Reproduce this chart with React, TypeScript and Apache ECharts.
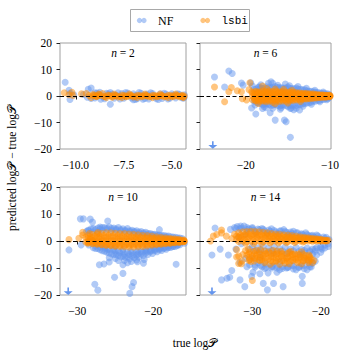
import React, { useEffect, useRef } from "react";
import * as echarts from "echarts";

const BLUE = "#6495ed";
const ORANGE = "#ff8c00";

const panelTitles = ["2", "6", "10", "14"];
const xMins = [-10.82, -25.42, -32.28, -37.65];
const xMaxs = [-4.26, -9.88, -15.7, -18.5];
const xTicks = [[-10, -7.5, -5], [-20, -10], [-30, -20], [-30, -20]];
const xDecimals = [1, 0, 0, 0];
const yTicks = [-20, -10, 0, 10, 20];
const arrowX = [null, -23.9, -31.2, -35.9];

const n2NF = [
  [-10.55, 5.2], [-10.35, 2.2], [-10.3, 1.0], [-10.3, -1.3], [-10.1, 0.5], [-9.2, 3.0], [-9.35, 2.5], [-9.0, 1.2],
  [-8.75, 1.4], [-8.2, -3.1], [-8.5, -1.0], [-8.3, 0.8], [-9.6, 0.6], [-9.4, -0.5], [-9.0, -0.7], [-8.8, 0.5],
  [-8.6, -0.3], [-8.4, 1.0], [-8.1, 0.7], [-8.0, -0.8], [-7.8, 1.2], [-7.6, 0.9], [-7.5, -0.8], [-7.3, 1.1],
  [-7.1, -0.7], [-7.0, 0.8], [-6.8, -1.0], [-6.6, 1.0], [-6.5, -1.2], [-6.3, 0.7], [-6.2, -1.1], [-6.0, 0.9],
  [-5.8, -1.0], [-5.6, 0.8], [-5.5, -0.9], [-5.3, 0.7], [-5.1, -0.8], [-5.0, 0.8], [-4.8, -0.7], [-4.6, 0.6],
  [-4.5, -0.6], [-4.35, 0.5], [-4.35, -0.5], [-7.9, 0.3], [-6.9, 0.2], [-5.9, -0.3], [-4.9, 0.3],
  [-9.2, -0.9], [-8.9, 1.1], [-8.7, -1.2], [-8.2, 1.3], [-7.7, -1.1], [-7.4, 1.3], [-6.9, -1.3], [-6.7, 1.3],
  [-6.4, -0.9], [-6.1, 1.2], [-5.7, -1.3], [-5.4, 1.0], [-5.2, -1.1], [-4.7, 0.8], [-4.4, -0.8], [-7.0, -1.4],
];
const n2Lsbi = [
  [-10.6, 1.2], [-10.2, 1.4], [-10.15, 0.2], [-10.35, 0.5], [-9.7, 0.8], [-9.45, 0.9], [-9.3, 0.2], [-9.1, 0.6],
  [-8.95, -0.2], [-8.8, 0.5], [-8.6, 0.9], [-8.5, -0.3], [-8.3, 0.4], [-8.1, -0.5], [-8.0, 0.3], [-7.8, -0.4],
  [-7.6, 0.4], [-7.4, -0.3], [-7.2, 0.3], [-7.0, -0.4], [-6.8, 0.3], [-6.6, -0.3], [-6.4, 0.3], [-6.2, -0.3],
  [-6.0, 0.3], [-5.8, -0.3], [-5.6, 0.3], [-5.4, -0.3], [-5.2, 0.3], [-5.0, -0.3], [-4.8, 0.3], [-4.6, -0.3],
  [-4.45, 0.3], [-4.35, 0.0], [-4.4, -0.4], [-8.9, 0.0], [-7.9, 0.0], [-7.1, 0.0], [-6.3, 0.0], [-5.5, 0.0], [-4.7, 0.0],
  [-9.2, -0.6], [-8.8, 0.7], [-8.4, -0.6], [-8.0, 0.7], [-7.6, -0.6], [-7.2, 0.7], [-6.8, -0.6], [-6.4, 0.7],
  [-6.0, -0.6], [-5.6, 0.7], [-5.2, -0.6], [-4.8, 0.7], [-4.4, -0.6], [-9.0, 0.3], [-8.2, 0.1], [-7.4, 0.1],
  [-6.6, 0.1], [-5.8, 0.1], [-5.0, 0.1], [-4.5, 0.1],
  [-9.1, 0.2], [-8.9, -0.2], [-8.7, 0.2], [-8.5, -0.2], [-8.3, 0.2], [-8.1, -0.2], [-7.9, 0.2], [-7.7, -0.2],
  [-7.5, 0.2], [-7.3, -0.2], [-7.1, 0.2], [-6.9, -0.2], [-6.7, 0.2], [-6.5, -0.2], [-6.3, 0.2], [-6.1, -0.2],
  [-5.9, 0.2], [-5.7, -0.2], [-5.5, 0.2], [-5.3, -0.2], [-5.1, 0.2], [-4.9, -0.2], [-4.7, 0.2], [-4.5, -0.2],
];

const n6NF = [
  [-23.7, 7.2], [-22.0, 9.4], [-21.6, 8.5], [-22.5, 3.4], [-20.5, 4.9], [-20.3, 4.1], [-19.4, 5.0], [-18.4, 3.5],
  [-17.0, 5.4], [-17.3, 4.8], [-18.8, -6.8], [-18.0, -4.7], [-17.1, -6.3], [-16.5, -9.1], [-15.4, -9.1], [-15.2, -9.7],
  [-14.7, -15.6], [-13.6, -5.3], [-14.7, -4.7], [-19.3, -4.5], [-15.3, 4.5], [-16.8, 4.8], [-14.0, -4.6], [-17.6, -4.4],
  [-19.0, 2.5], [-18.5, 3.2], [-18.0, 2.8], [-17.5, 3.5], [-17.0, 3.0], [-16.5, 3.6], [-16.0, 3.2], [-15.5, 3.0],
  [-15.0, 3.4], [-14.5, 2.8], [-14.0, 3.0], [-13.5, 2.5], [-13.0, 2.3], [-12.5, 1.9], [-12.0, 1.6], [-11.5, 1.3],
  [-11.0, 1.0], [-10.5, 0.8], [-10.1, 0.5], [-19.0, -2.0], [-18.5, -2.5], [-18.0, -3.3], [-17.5, -3.0], [-17.0, -3.6],
  [-16.5, -3.2], [-16.0, -3.8], [-15.5, -3.4], [-15.0, -4.0], [-14.5, -3.5], [-14.0, -3.6], [-13.5, -3.2], [-13.0, -2.8],
  [-12.5, -2.5], [-12.0, -2.0], [-11.5, -1.6], [-11.0, -1.3], [-10.5, -0.9], [-10.1, -0.6], [-18.7, 1.0], [-17.8, -1.2],
  [-17.2, 1.5], [-16.3, -1.5], [-15.7, 1.6], [-14.8, -1.8], [-14.2, 1.4], [-13.3, -1.2], [-12.8, 0.8], [-11.8, -0.6],
  [-19.2, 3.8], [-18.2, 4.2], [-16.2, 4.0], [-14.8, 3.9], [-13.8, 3.6], [-12.8, 2.9], [-11.8, 2.2], [-10.8, 1.5],
  [-18.9, -3.4], [-17.8, -4.0], [-16.8, -4.6], [-15.8, -4.4], [-14.6, -4.5], [-13.2, -3.9], [-12.2, -3.1], [-11.2, -2.2],
  [-10.4, -1.4], [-15.9, -5.0], [-14.3, -5.2],
  [-18.75, 2.6], [-18.25, 2.9], [-17.75, 3.0], [-17.25, 3.2], [-16.75, 3.3], [-16.25, 3.2], [-15.75, 3.1], [-15.25, 3.0],
  [-14.75, 2.9], [-14.25, 2.7], [-13.75, 2.5], [-13.25, 2.3], [-12.75, 2.0], [-12.25, 1.8], [-11.75, 1.5], [-11.25, 1.2],
  [-10.75, 1.0], [-10.25, 0.8],
  [-18.75, -2.4], [-18.25, -2.8], [-17.75, -3.0], [-17.25, -3.2], [-16.75, -3.4], [-16.25, -3.5], [-15.75, -3.6], [-15.25, -3.6],
  [-14.75, -3.5], [-14.25, -3.4], [-13.75, -3.2], [-13.25, -3.0], [-12.75, -2.6], [-12.25, -2.3], [-11.75, -2.0], [-11.25, -1.7],
  [-10.75, -1.3], [-10.25, -1.0],
];
const n6Lsbi = [
  [-23.7, 3.4], [-22.5, -2.2], [-22.0, 1.6], [-21.7, 3.2], [-21.0, 2.0], [-20.5, 1.6], [-20.4, -1.0], [-19.9, -1.5],
  [-19.5, 5.0], [-19.3, 1.6], [-18.0, 3.8], [-19.6, 2.4],
  [-19.2, 1.2], [-18.8, 1.8], [-18.4, 1.6], [-18.0, 2.0], [-17.6, 1.8], [-17.2, 2.0], [-16.8, 1.7], [-16.4, 1.9],
  [-16.0, 1.6], [-15.6, 1.8], [-15.2, 1.5], [-14.8, 1.6], [-14.4, 1.4], [-14.0, 1.3], [-13.6, 1.2], [-13.2, 1.0],
  [-12.8, 1.0], [-12.4, 0.8], [-12.0, 0.8], [-11.6, 0.6], [-11.2, 0.5], [-10.8, 0.4], [-10.4, 0.3], [-10.0, 0.2],
  [-19.2, 0.0], [-18.8, -0.3], [-18.4, 0.2], [-18.0, -0.2], [-17.6, 0.3], [-17.2, -0.3], [-16.8, 0.2], [-16.4, -0.2],
  [-16.0, 0.3], [-15.6, -0.2], [-15.2, 0.2], [-14.8, -0.2], [-14.4, 0.2], [-14.0, -0.1], [-13.6, 0.1], [-13.2, -0.1],
  [-12.8, 0.1], [-12.4, 0.0], [-12.0, 0.1], [-11.6, 0.0], [-11.2, 0.0], [-10.8, 0.0], [-10.4, 0.0], [-10.0, 0.0],
  [-19.2, -1.4], [-18.8, -1.8], [-18.4, -2.0], [-18.0, -1.9], [-17.6, -2.2], [-17.2, -2.0], [-16.8, -2.3], [-16.4, -2.0],
  [-16.0, -2.1], [-15.6, -1.9], [-15.2, -2.0], [-14.8, -1.8], [-14.4, -1.7], [-14.0, -1.5], [-13.6, -1.4], [-13.2, -1.2],
  [-12.8, -1.1], [-12.4, -1.0], [-12.0, -0.8], [-11.6, -0.7], [-11.2, -0.6], [-10.8, -0.5], [-10.4, -0.4], [-10.0, -0.2],
  [-19.0, 0.9], [-18.6, 1.0], [-18.2, 0.8], [-17.8, 1.1], [-17.4, 0.9], [-17.0, 1.0], [-16.6, 0.8], [-16.2, 1.0],
  [-15.8, 0.9], [-15.4, 0.9], [-15.0, 0.8], [-14.6, 0.8], [-14.2, 0.7], [-13.8, 0.7], [-13.4, 0.6], [-13.0, 0.5],
  [-12.6, 0.5], [-12.2, 0.4], [-11.8, 0.4], [-11.4, 0.3], [-11.0, 0.3], [-10.6, 0.2], [-10.2, 0.1],
  [-19.0, -0.9], [-18.6, -1.1], [-18.2, -1.0], [-17.8, -1.2], [-17.4, -1.0], [-17.0, -1.2], [-16.6, -1.1], [-16.2, -1.2],
  [-15.8, -1.0], [-15.4, -1.1], [-15.0, -1.0], [-14.6, -1.0], [-14.2, -0.9], [-13.8, -0.8], [-13.4, -0.8], [-13.0, -0.7],
  [-12.6, -0.6], [-12.2, -0.5], [-11.8, -0.5], [-11.4, -0.4], [-11.0, -0.3], [-10.6, -0.3], [-10.2, -0.2],
  [-17.5, 2.8], [-16.5, 2.6], [-15.5, 2.5], [-14.5, 2.2], [-18.5, -2.8], [-16.5, -2.9], [-15.0, -2.6], [-13.5, -2.1],
  [-18.9, 0.5], [-18.5, 0.6], [-18.1, 0.5], [-17.7, 0.6], [-17.3, 0.5], [-16.9, 0.5], [-16.5, 0.5], [-16.1, 0.5],
  [-15.7, 0.4], [-15.3, 0.4], [-14.9, 0.4], [-14.5, 0.4], [-14.1, 0.3], [-13.7, 0.3], [-13.3, 0.3], [-12.9, 0.3],
  [-12.5, 0.2], [-12.1, 0.2], [-11.7, 0.2], [-11.3, 0.2], [-10.9, 0.1], [-10.5, 0.1], [-10.1, 0.1],
  [-18.9, -0.6], [-18.5, -0.6], [-18.1, -0.5], [-17.7, -0.6], [-17.3, -0.5], [-16.9, -0.6], [-16.5, -0.5], [-16.1, -0.5],
  [-15.7, -0.5], [-15.3, -0.5], [-14.9, -0.4], [-14.5, -0.4], [-14.1, -0.4], [-13.7, -0.3], [-13.3, -0.3], [-12.9, -0.3],
  [-12.5, -0.3], [-12.1, -0.2], [-11.7, -0.2], [-11.3, -0.2], [-10.9, -0.1], [-10.5, -0.1], [-10.1, -0.1],
  [-18.9, 1.5], [-18.5, 1.4], [-18.1, 1.5], [-17.7, 1.4], [-17.3, 1.4], [-16.9, 1.3], [-16.5, 1.3], [-16.1, 1.3],
  [-15.7, 1.2], [-15.3, 1.2], [-14.9, 1.1], [-14.5, 1.1], [-14.1, 1.0], [-13.7, 0.9], [-13.3, 0.8], [-12.9, 0.8],
  [-12.5, 0.7], [-12.1, 0.6], [-11.7, 0.5], [-11.3, 0.4], [-10.9, 0.4], [-10.5, 0.3], [-10.1, 0.3],
  [-18.9, -1.6], [-18.5, -1.5], [-18.1, -1.6], [-17.7, -1.6], [-17.3, -1.5], [-16.9, -1.6], [-16.5, -1.5], [-16.1, -1.5],
  [-15.7, -1.4], [-15.3, -1.4], [-14.9, -1.3], [-14.5, -1.3], [-14.1, -1.2], [-13.7, -1.1], [-13.3, -1.0], [-12.9, -0.9],
  [-12.5, -0.8], [-12.1, -0.7], [-11.7, -0.6], [-11.3, -0.5], [-10.9, -0.4], [-10.5, -0.4], [-10.1, -0.3],
];

const n10NF = [
  [-29.6, 8.2], [-29.2, 8.2], [-28.3, 8.1], [-28.0, 7.0], [-26.0, 7.4], [-31.1, -3.3], [-29.5, -1.5], [-27.1, -8.8],
  [-26.5, -8.5], [-25.8, -7.8], [-24.0, -8.8], [-24.0, -12.0], [-25.1, -13.4], [-22.6, -15.4], [-22.8, -16.9], [-23.1, -19.4],
  [-27.7, -16.0], [-27.3, -18.2], [-17.0, -8.6], [-22.1, -7.7], [-21.3, -8.2], [-19.2, 4.2], [-27.0, 4.5], [-28.6, 4.0],
  [-28.8, 3.5], [-28.2, 4.5], [-27.6, 4.2], [-27.0, 5.2], [-26.4, 5.0], [-25.8, 5.3], [-25.2, 4.8], [-24.6, 5.0],
  [-24.0, 4.5], [-23.4, 4.6], [-22.8, 4.0], [-22.2, 3.8], [-21.6, 3.5], [-21.0, 3.2], [-20.4, 2.8], [-19.8, 2.5],
  [-19.2, 2.2], [-18.6, 2.0], [-18.0, 1.8], [-17.4, 1.5], [-16.8, 1.2], [-16.2, 0.9], [-28.5, -1.5], [-27.9, -2.5],
  [-27.3, -2.8], [-26.7, -3.6], [-26.1, -4.2], [-25.5, -4.8], [-24.9, -5.0], [-24.3, -5.8], [-23.7, -6.0], [-23.1, -6.6],
  [-22.5, -6.2], [-21.9, -6.0], [-21.3, -5.4], [-20.7, -5.0], [-20.1, -4.6], [-19.5, -4.0], [-18.9, -3.5], [-18.3, -3.0],
  [-17.7, -2.4], [-17.1, -2.0], [-16.5, -1.4], [-15.9, -0.8], [-26.4, -2.0], [-25.2, -2.6], [-24.0, -3.2], [-23.0, -3.8],
  [-22.0, -3.6], [-21.0, -3.0], [-20.0, -2.5], [-19.0, -2.0], [-18.0, -1.5], [-24.6, -7.2], [-23.4, -8.0], [-22.2, -7.0],
  [-25.8, -6.2], [-21.2, -6.8],
  [-27.0, -1.2], [-26.0, -3.0], [-25.0, -3.8], [-24.4, -4.4], [-23.8, -4.8], [-23.2, -5.0], [-22.6, -5.0], [-22.0, -4.8],
  [-21.4, -4.2], [-20.8, -3.8], [-20.2, -3.4], [-19.6, -2.8], [-19.0, -2.6], [-18.4, -2.2], [-17.8, -1.6], [-17.2, -1.2],
  [-16.4, -0.6], [-28.0, 3.3], [-27.3, 3.5], [-26.7, 4.0], [-26.1, 4.2], [-25.5, 3.9], [-24.9, 4.0], [-24.3, 3.8],
  [-23.7, 3.6], [-23.1, 3.4], [-22.5, 3.2], [-21.9, 2.8], [-21.3, 2.7], [-20.7, 2.4], [-20.1, 2.1], [-19.5, 1.9],
  [-18.9, 1.6], [-18.3, 1.4], [-25.0, -6.5], [-23.8, -7.2], [-22.9, -7.6],
  [-28.5, 3.8], [-27.9, 4.6], [-27.3, 4.8], [-26.7, 5.0], [-26.1, 4.7], [-25.5, 4.6], [-24.9, 4.4], [-24.3, 4.2],
  [-23.7, 4.0], [-23.1, 3.8], [-22.5, 3.6], [-21.9, 3.3], [-21.3, 3.0], [-20.7, 2.8], [-20.1, 2.5], [-19.5, 2.3],
  [-18.9, 2.0], [-18.3, 1.8], [-17.7, 1.6], [-17.1, 1.4], [-16.5, 1.1],
  [-27.6, -1.8], [-27.0, -2.2], [-26.4, -2.6], [-25.8, -3.0], [-25.2, -3.3], [-24.6, -3.6], [-24.0, -3.9], [-23.4, -4.2],
  [-22.8, -4.2], [-22.2, -4.0], [-21.6, -3.8], [-21.0, -3.6], [-20.4, -3.4], [-19.8, -3.1], [-19.2, -2.8], [-18.6, -2.5],
  [-18.0, -2.2], [-17.4, -1.9], [-16.8, -1.5],
  [-27.6, -2.8], [-27.0, -3.2], [-26.4, -3.8], [-25.8, -4.4], [-25.2, -5.0], [-24.6, -5.4], [-24.0, -5.6], [-23.4, -5.8],
  [-22.8, -5.6], [-22.2, -5.2], [-21.6, -4.8], [-21.0, -4.4], [-20.4, -4.0], [-19.8, -3.6], [-19.2, -3.2], [-18.6, -2.8],
  [-18.0, -2.4], [-17.4, -2.0], [-16.8, -1.6],
];
const n10Lsbi = [
  [-31.1, 0.5], [-29.3, 3.2], [-29.3, 2.2], [-28.4, 2.8], [-27.3, 3.1], [-29.8, 1.0], [-28.9, -0.4], [-28.0, 0.2],
  [-28.6, 2.0], [-28.0, 2.4], [-27.4, 2.6], [-26.8, 2.8], [-26.2, 3.0], [-25.6, 3.0], [-25.0, 2.9], [-24.4, 2.8],
  [-23.8, 2.8], [-23.2, 2.6], [-22.6, 2.5], [-22.0, 2.3], [-21.4, 2.1], [-20.8, 2.0], [-20.2, 1.8], [-19.6, 1.6],
  [-19.0, 1.4], [-18.4, 1.2], [-17.8, 1.0], [-17.2, 0.8], [-16.6, 0.6], [-16.0, 0.4],
  [-28.3, 0.6], [-27.7, 0.3], [-27.1, 0.7], [-26.5, 0.4], [-25.9, 0.6], [-25.3, 0.3], [-24.7, 0.6], [-24.1, 0.4],
  [-23.5, 0.5], [-22.9, 0.3], [-22.3, 0.5], [-21.7, 0.3], [-21.1, 0.4], [-20.5, 0.2], [-19.9, 0.4], [-19.3, 0.2],
  [-18.7, 0.3], [-18.1, 0.1], [-17.5, 0.2], [-16.9, 0.1], [-16.3, 0.1], [-15.9, 0.0],
  [-28.6, -0.5], [-28.0, -0.8], [-27.4, -1.0], [-26.8, -1.3], [-26.2, -1.5], [-25.6, -1.7], [-25.0, -1.9], [-24.4, -2.0],
  [-23.8, -2.1], [-23.2, -2.2], [-22.6, -2.2], [-22.0, -2.1], [-21.4, -2.0], [-20.8, -1.8], [-20.2, -1.6], [-19.6, -1.4],
  [-19.0, -1.2], [-18.4, -1.0], [-17.8, -0.8], [-17.2, -0.6], [-16.6, -0.5], [-16.0, -0.3],
  [-28.9, 1.4], [-28.3, 1.6], [-27.7, 1.8], [-27.1, 1.9], [-26.5, 2.0], [-25.9, 2.0], [-25.3, 1.9], [-24.7, 1.9],
  [-24.1, 1.8], [-23.5, 1.7], [-22.9, 1.6], [-22.3, 1.5], [-21.7, 1.4], [-21.1, 1.3], [-20.5, 1.2], [-19.9, 1.0],
  [-19.3, 0.9], [-18.7, 0.8], [-18.1, 0.7], [-17.5, 0.6], [-16.9, 0.5], [-16.3, 0.3],
  [-28.3, -0.3], [-27.7, -0.6], [-27.1, -0.5], [-26.5, -0.8], [-25.9, -0.9], [-25.3, -1.0], [-24.7, -1.1], [-24.1, -1.2],
  [-23.5, -1.2], [-22.9, -1.3], [-22.3, -1.2], [-21.7, -1.2], [-21.1, -1.1], [-20.5, -1.0], [-19.9, -0.9], [-19.3, -0.8],
  [-18.7, -0.7], [-18.1, -0.6], [-17.5, -0.5], [-16.9, -0.4], [-16.3, -0.3],
  [-28.6, 1.0], [-28.0, 1.1], [-27.4, 1.2], [-26.8, 1.3], [-26.2, 1.4], [-25.6, 1.4], [-25.0, 1.4], [-24.4, 1.4],
  [-23.8, 1.3], [-23.2, 1.3], [-22.6, 1.2], [-22.0, 1.1], [-21.4, 1.0], [-20.8, 1.0], [-20.2, 0.9], [-19.6, 0.8],
  [-19.0, 0.7], [-18.4, 0.6], [-17.8, 0.5], [-17.2, 0.4], [-16.6, 0.3], [-16.0, 0.2],
  [-28.6, -0.2], [-28.0, -0.1], [-27.4, -0.2], [-26.8, -0.1], [-26.2, -0.2], [-25.6, -0.1], [-25.0, -0.2], [-24.4, -0.1],
  [-23.8, -0.2], [-23.2, -0.1], [-22.6, -0.2], [-22.0, -0.1], [-21.4, -0.2], [-20.8, -0.1], [-20.2, -0.2], [-19.6, -0.1],
  [-19.0, -0.2], [-18.4, -0.1], [-17.8, -0.2], [-17.2, -0.1], [-16.6, -0.1], [-16.0, -0.1],
  [-28.6, -0.8], [-28.0, -1.0], [-27.4, -1.2], [-26.8, -1.4], [-26.2, -1.6], [-25.6, -1.6], [-25.0, -1.6], [-24.4, -1.6],
  [-23.8, -1.6], [-23.2, -1.6], [-22.6, -1.6], [-22.0, -1.5], [-21.4, -1.4], [-20.8, -1.3], [-20.2, -1.2], [-19.6, -1.1],
  [-19.0, -1.0], [-18.4, -0.8], [-17.8, -0.7], [-17.2, -0.5], [-16.6, -0.4], [-16.0, -0.2],
];

const n14NF = [
  [-35.45, 4.8], [-35.9, -5.2], [-34.7, -3.0], [-34.5, -14.4], [-33.7, -13.8], [-33.3, -13.4], [-33.0, -10.9], [-33.5, -5.2],
  [-31.8, -14.4], [-31.1, -16.9], [-30.1, -13.1], [-29.9, -11.6], [-28.9, -12.1], [-28.4, -15.7], [-27.8, -18.1], [-26.9, -15.7],
  [-25.5, -16.9], [-27.7, -11.8], [-26.4, -11.6], [-22.7, -13.1], [-22.7, -15.7],
  [-33.2, 4.3], [-32.6, 5.0], [-32.2, 5.4], [-31.7, 5.5], [-31.2, 5.5], [-30.8, 4.2],
  [-30.5, 4.5], [-29.8, 4.0], [-29.0, 4.2], [-28.2, 3.8], [-27.4, 3.6], [-26.6, 3.4], [-25.8, 3.8], [-25.0, 3.2],
  [-24.2, 2.8], [-23.4, 3.0], [-22.6, 2.4], [-21.8, 2.0], [-21.0, 1.6], [-20.2, 1.2], [-19.4, 0.9], [-18.8, 0.5],
  [-30.0, -2.0], [-29.2, -2.5], [-28.4, -1.8], [-27.6, -2.6], [-26.8, -2.0], [-26.0, -2.8], [-25.2, -2.2], [-24.4, -3.0],
  [-23.6, -2.4], [-22.8, -3.2], [-22.0, -2.6], [-21.2, -3.0], [-20.6, -2.4], [-20.0, -2.0], [-19.4, -1.5], [-18.9, -1.0],
  [-21.6, -4.0], [-20.8, -3.8], [-22.4, -4.4], [-19.8, -3.0], [-29.0, -4.0], [-27.0, -4.5], [-25.0, -4.8], [-23.0, -5.0],
  [-30.0, -6.5], [-29.2, -8.0], [-28.6, -9.5], [-28.0, -8.5], [-27.2, -10.0], [-26.4, -9.2], [-25.6, -10.2], [-24.8, -9.6],
  [-24.0, -10.4], [-23.2, -9.8], [-22.4, -10.3], [-21.6, -9.5], [-21.2, -8.2], [-22.0, -7.0], [-26.0, -7.8], [-28.8, -6.0],
  [-31.0, -6.5], [-30.8, -9.5], [-31.8, -8.0], [-32.4, -3.0], [-31.6, -1.0], [-32.0, 1.5], [-31.0, 2.5],
  [-29.6, -9.0], [-28.2, -10.2], [-27.0, -9.4], [-26.0, -10.6], [-25.0, -10.0], [-24.2, -9.0], [-23.6, -10.6], [-22.8, -9.2],
  [-22.0, -10.6], [-21.4, -9.6], [-20.8, -7.5], [-20.6, -5.2], [-20.0, -4.2], [-19.4, -2.6], [-18.9, -2.0], [-21.2, -5.0],
  [-31.8, 4.5], [-30.0, 5.0], [-28.6, 4.6], [-27.2, 4.5], [-25.4, 4.2], [-24.0, 3.6], [-22.2, 3.0], [-20.6, 2.2],
  [-19.2, 1.4], [-29.5, 3.0], [-27.8, 2.8], [-26.2, 2.8], [-24.6, 2.6], [-23.0, 2.2], [-21.4, 1.8],
  [-30.4, -3.0], [-29.6, -3.6], [-28.8, -3.3], [-28.0, -3.8], [-27.2, -3.5], [-26.4, -3.9], [-25.6, -3.6], [-24.8, -4.0],
  [-24.0, -3.7], [-23.2, -3.9], [-22.4, -3.5], [-21.6, -3.6], [-20.8, -3.0], [-20.0, -2.6],
  [-30.4, -8.8], [-29.6, -9.6], [-28.8, -9.0], [-28.0, -9.8], [-27.2, -9.4], [-26.4, -10.0], [-25.6, -9.4], [-24.8, -9.8],
  [-24.0, -9.2], [-23.2, -9.6], [-22.4, -9.0], [-21.6, -8.6],
  [-32.4, 4.6], [-31.6, 4.8], [-30.8, 5.0], [-30.0, 4.6], [-29.2, 4.4], [-28.4, 4.3], [-27.6, 4.1], [-26.8, 3.9],
  [-26.0, 3.7], [-25.2, 3.5], [-24.4, 3.3], [-23.6, 3.0], [-22.8, 2.7], [-22.0, 2.4], [-21.2, 2.1], [-20.4, 1.8], [-19.6, 1.5],
];
const n14Lsbi = [
  [-36.1, 0.0], [-35.7, 1.8], [-35.2, 2.4], [-34.5, 3.0], [-34.5, 4.1], [-33.8, 1.8], [-33.0, 0.9], [-32.3, -5.9],
  [-32.0, -8.3], [-31.5, -7.4], [-30.0, -14.6],
  [-32.6, 2.5], [-32.0, 3.0], [-31.4, 3.4], [-30.8, 3.5], [-30.2, 3.6], [-29.6, 3.5], [-29.0, 3.4], [-28.4, 3.2],
  [-27.8, 3.0], [-27.2, 2.8], [-26.6, 2.6], [-26.0, 2.5], [-25.4, 2.3], [-24.8, 2.2], [-24.2, 2.0], [-23.6, 1.8],
  [-23.0, 1.6], [-22.4, 1.4], [-21.8, 1.2], [-21.2, 1.0], [-20.6, 0.8], [-20.0, 0.6], [-19.4, 0.4], [-18.9, 0.3],
  [-32.3, 0.6], [-31.7, 1.0], [-31.1, 0.6], [-30.5, 1.2], [-29.9, 0.8], [-29.3, 1.2], [-28.7, 0.7], [-28.1, 1.1],
  [-27.5, 0.7], [-26.9, 1.0], [-26.3, 0.6], [-25.7, 0.9], [-25.1, 0.5], [-24.5, 0.8], [-23.9, 0.5], [-23.3, 0.6],
  [-22.7, 0.4], [-22.1, 0.5], [-21.5, 0.3], [-20.9, 0.3], [-20.3, 0.2], [-19.7, 0.1], [-19.1, 0.0],
  [-31.0, -0.8], [-29.8, -0.9], [-28.6, -0.8], [-27.4, -0.7], [-26.2, -0.7], [-25.0, -0.6], [-23.8, -0.5], [-22.6, -0.4],
  [-32.3, 1.8], [-31.7, 2.2], [-31.1, 2.3], [-30.5, 2.5], [-29.9, 2.4], [-29.3, 2.4], [-28.7, 2.2], [-28.1, 2.2],
  [-27.5, 2.0], [-26.9, 1.9], [-26.3, 1.8], [-25.7, 1.7], [-25.1, 1.5], [-24.5, 1.5], [-23.9, 1.3], [-23.3, 1.2],
  [-22.7, 1.1], [-22.1, 1.0], [-21.5, 0.8], [-20.9, 0.7], [-20.3, 0.6], [-19.7, 0.4], [-19.1, 0.3],
  [-32.0, 1.4], [-31.4, 1.7], [-30.8, 1.8], [-30.2, 1.9], [-29.6, 1.9], [-29.0, 1.9], [-28.4, 1.8], [-27.8, 1.7],
  [-27.2, 1.6], [-26.6, 1.5], [-26.0, 1.4], [-25.4, 1.3], [-24.8, 1.2], [-24.2, 1.1], [-23.6, 1.0], [-23.0, 0.9],
  [-22.4, 0.8], [-21.8, 0.7], [-21.2, 0.6], [-20.6, 0.5], [-20.0, 0.4], [-19.4, 0.2],
  [-32.0, -0.2], [-31.4, 0.0], [-30.8, -0.3], [-30.2, 0.0], [-29.6, -0.2], [-29.0, 0.0], [-28.4, -0.3], [-27.8, 0.0],
  [-27.2, -0.2], [-26.6, 0.0], [-26.0, -0.2], [-25.4, 0.0], [-24.8, -0.2], [-24.2, 0.0], [-23.6, -0.1], [-23.0, 0.0],
  [-22.4, -0.1], [-21.8, 0.0], [-21.2, -0.1], [-20.6, 0.0], [-20.0, 0.0], [-19.4, 0.0],
  [-31.0, -3.5], [-30.4, -4.2], [-30.4, -6.8], [-29.8, -3.8], [-29.6, -6.5], [-29.0, -4.5], [-29.0, -7.0], [-28.4, -5.5],
  [-28.2, -8.0], [-27.6, -4.0], [-27.6, -6.4], [-27.0, -7.8], [-26.8, -5.0], [-26.2, -6.6], [-26.0, -8.6], [-25.6, -4.6],
  [-25.4, -7.2], [-24.8, -5.8], [-24.6, -8.4], [-24.0, -6.6], [-23.8, -4.8], [-23.4, -8.0], [-23.0, -6.0], [-22.6, -7.4],
  [-22.2, -5.4], [-21.8, -8.0], [-21.4, -6.6], [-21.0, -7.2], [-28.8, -3.2], [-26.4, -3.6], [-24.4, -3.8], [-22.8, -4.0],
  [-30.0, -5.5], [-31.4, -5.0], [-32.3, -3.2], [-32.0, -5.6], [-31.6, -8.4],
  [-30.8, -5.2], [-30.2, -7.6], [-29.4, -5.2], [-28.6, -6.8], [-28.0, -4.6], [-27.4, -8.6], [-27.2, -5.6], [-26.6, -7.4],
  [-26.4, -4.6], [-25.8, -5.6], [-25.2, -8.2], [-25.0, -6.4], [-24.4, -7.4], [-24.2, -5.0], [-23.6, -6.8], [-23.2, -5.2],
  [-22.8, -8.4], [-22.4, -6.4], [-21.8, -7.0], [-21.6, -5.8], [-21.2, -8.0], [-30.6, -3.0], [-29.4, -3.4], [-28.2, -3.6],
  [-27.0, -3.4], [-25.8, -3.8], [-24.6, -4.2],
  [-30.5, -4.8], [-29.7, -4.6], [-28.9, -5.0], [-28.1, -4.8], [-27.3, -4.6], [-26.5, -5.0], [-25.7, -4.8], [-24.9, -4.6],
  [-24.1, -5.0], [-23.3, -4.8], [-22.5, -5.0], [-21.7, -5.2],
  [-30.5, -6.0], [-29.7, -6.2], [-28.9, -6.0], [-28.1, -6.2], [-27.3, -6.0], [-26.5, -6.2], [-25.7, -6.0], [-24.9, -6.2],
  [-24.1, -6.0], [-23.3, -6.2], [-22.5, -6.0], [-21.7, -6.2],
  [-30.5, -7.2], [-29.7, -7.4], [-28.9, -7.2], [-28.1, -7.4], [-27.3, -7.2], [-26.5, -7.4], [-25.7, -7.2], [-24.9, -7.4],
  [-24.1, -7.2], [-23.3, -7.4], [-22.5, -7.2], [-21.7, -7.4],
];

const nfData = [n2NF, n6NF, n10NF, n14NF];
const lsbiData = [n2Lsbi, n6Lsbi, n10Lsbi, n14Lsbi];

const FONT = "Liberation Serif";
const fmtMinus = (s: string) => s.replace("-", "\u2212");

const grids = [
  { left: 60, top: 43, width: 126, height: 106 },
  { left: 200, top: 43, width: 131, height: 106 },
  { left: 60, top: 187, width: 126, height: 108 },
  { left: 200, top: 187, width: 131, height: 108 },
];

const ARROW = "path://M4.1,0 L5.9,0 L5.9,4 L10,4 L5,8 L0,4 L4.1,4 Z";

export default function App() {
  const ref = useRef<HTMLDivElement>(null);
  useEffect(() => {
    if (!ref.current) return;
    const chart = echarts.init(ref.current, null, { renderer: "svg" });
    const series: any[] = [];
    for (let i = 0; i < 4; i++) {
      series.push({
        type: "scatter",
        name: "NF",
        xAxisIndex: i,
        yAxisIndex: i,
        data: nfData[i],
        symbolSize: 7,
        large: false,
        itemStyle: { color: BLUE, opacity: 0.5 },
        emphasis: { disabled: true },
        silent: true,
      });
      series.push({
        type: "scatter",
        name: "lsbi",
        xAxisIndex: i,
        yAxisIndex: i,
        data: lsbiData[i],
        symbolSize: 7,
        large: false,
        itemStyle: { color: ORANGE, opacity: 0.5 },
        emphasis: { disabled: true },
        silent: true,
        markLine: {
          silent: true,
          symbol: "none",
          label: { show: false },
          lineStyle: { color: "#000", type: [4, 2.5], width: 1.2, opacity: 1 },
          emphasis: { disabled: true },
          data: [{ yAxis: 0 }],
        },
      });
      const ax = arrowX[i];
      if (ax !== null) {
        series.push({
          type: "scatter",
          xAxisIndex: i,
          yAxisIndex: i,
          data: [[ax, i < 2 ? -18.5 : -18.6]],
          symbol: ARROW,
          symbolSize: [9, 7.5],
          itemStyle: { color: BLUE, opacity: 1 },
          silent: true,
          z: 5,
        });
      }
    }
    const option: any = {
      animation: false,
      grid: grids.map((g) => ({ ...g, show: true, borderColor: "#a0a0a0", borderWidth: 1, backgroundColor: "transparent" })),
      xAxis: grids.map((_, i) => ({
        type: "value",
        gridIndex: i,
        min: xMins[i],
        max: xMaxs[i],
        axisLine: { show: false },
        splitLine: { show: false },
        axisTick: { show: true, length: 3.5, lineStyle: { color: "#222" }, customValues: xTicks[i] },
        axisLabel: {
          margin: 10,
          color: "#000",
          fontFamily: FONT,
          fontSize: 11.5,
          customValues: xTicks[i],
          formatter: (v: number) => fmtMinus(v.toFixed(xDecimals[i])),
        },
      })),
      yAxis: grids.map((_, i) => ({
        type: "value",
        gridIndex: i,
        min: -20,
        max: 20,
        interval: 10,
        axisLine: { show: false },
        splitLine: { show: false },
        axisTick: { show: true, length: 3.5, lineStyle: { color: "#222" }, customValues: yTicks },
        axisLabel: {
          show: i % 2 === 0,
          margin: 8,
          color: "#000",
          fontFamily: FONT,
          fontSize: 11.5,
          customValues: yTicks,
          formatter: (v: number) => fmtMinus(String(v)),
        },
      })),
      title: grids.map((g, i) => ({
        text: "{i|n} = " + panelTitles[i],
        left: g.left + g.width / 2,
        top: g.top + 4,
        textAlign: "center",
        padding: 0,
        textStyle: {
          fontFamily: FONT,
          fontSize: 11.5,
          fontWeight: "normal",
          color: "#000",
          rich: { i: { fontStyle: "italic", fontWeight: "normal", fontFamily: FONT, fontSize: 11.5, color: "#000" } },
        },
      })),
      graphic: [
        { type: "rect", shape: { x: 130.5, y: 9.5, width: 119, height: 22 }, style: { fill: "#fff", stroke: "#a8a8a8", lineWidth: 1 } },
        { type: "circle", shape: { cx: 139.5, cy: 20.5, r: 2.6 }, style: { fill: BLUE, opacity: 0.5 } },
        { type: "circle", shape: { cx: 144, cy: 20.5, r: 2.6 }, style: { fill: BLUE, opacity: 0.5 } },
        { type: "text", x: 158, y: 20.5, style: { text: "NF", fill: "#000", fontFamily: FONT, fontSize: 12, verticalAlign: "middle" } },
        { type: "circle", shape: { cx: 203, cy: 20.5, r: 2.6 }, style: { fill: ORANGE, opacity: 0.5 } },
        { type: "circle", shape: { cx: 207.5, cy: 20.5, r: 2.6 }, style: { fill: ORANGE, opacity: 0.5 } },
        { type: "text", x: 221.5, y: 20.5, style: { text: "lsbi", fill: "#000", fontFamily: "Liberation Mono", fontSize: 11, verticalAlign: "middle" } },
        {
          type: "text",
          x: 12,
          y: 168,
          rotation: Math.PI / 2,
          style: { text: "predicted log\u{1D4AB} \u2212 true log\u{1D4AB}", fill: "#000", fontFamily: FONT, fontSize: 11.5, align: "center", verticalAlign: "middle" },
        },
        {
          type: "text",
          x: 195,
          y: 343,
          style: { text: "true log\u{1D4AB}", fill: "#000", fontFamily: FONT, fontSize: 11.5, align: "center", verticalAlign: "middle" },
        },
      ],
      series,
    };
    chart.setOption(option);
    return () => chart.dispose();
  }, []);
  return <div ref={ref} style={{ position: "fixed", left: 0, top: 0, width: 350, height: 360, background: "#fff" }} />;
}
